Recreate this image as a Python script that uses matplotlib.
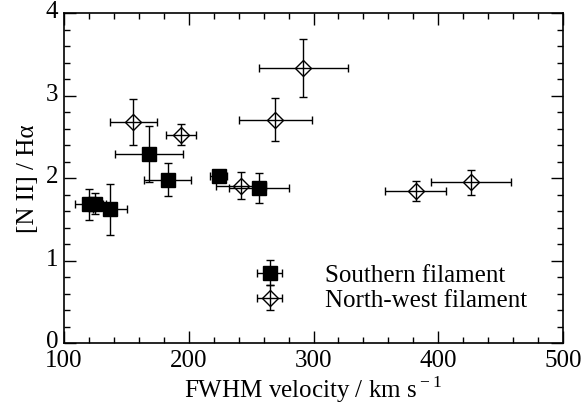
import matplotlib
matplotlib.use('Agg')
import matplotlib.pyplot as plt
import matplotlib.transforms as mtransforms

# Southern filament (filled squares)
south_x = [120.0, 124.6, 136.9, 168.1, 183.1, 224.0, 256.1]
south_y = [1.68, 1.69, 1.62, 2.29, 1.98, 2.02, 1.88]
south_xerr = [11.5, 9.0, 14.0, 27.0, 19.0, 7.0, 24.0]
south_yerr = [0.19, 0.13, 0.31, 0.34, 0.20, 0.05, 0.18]

# North-west filament (open diamonds)
north_x = [155.6, 193.8, 241.9, 269.4, 291.9, 381.9, 426.0]
north_y = [2.675, 2.525, 1.907, 2.707, 3.33, 1.839, 1.948]
north_xerr = [18.7, 12.0, 20.0, 29.5, 35.6, 24.5, 32.0]
north_yerr = [0.28, 0.13, 0.16, 0.26, 0.35, 0.12, 0.15]

x_ticks = [100, 200, 300, 400, 500]
y_ticks = [0, 1, 2, 3, 4]

plt.rcParams['font.family'] = ['Liberation Serif', 'DejaVu Serif']
plt.rcParams['mathtext.fontset'] = 'custom'
plt.rcParams['mathtext.rm'] = 'Liberation Serif'
plt.rcParams['font.size'] = 18

fig = plt.figure(figsize=(5.84, 4.06), dpi=100)
ax = fig.add_axes([64 / 584, 1 - 344 / 406, 499 / 584, 330 / 406])

ax.errorbar(south_x, south_y, xerr=south_xerr, yerr=south_yerr, fmt='s',
            color='black', ms=9.5, elinewidth=1, capsize=3, capthick=1,
            label='Southern filament')
ax.errorbar(north_x, north_y, xerr=north_xerr, yerr=north_yerr, fmt='D',
            color='black', mfc='none', mec='black', mew=1, ms=8.5,
            elinewidth=1, capsize=3, capthick=1, label='North-west filament')

ax.set_xlim(100, 500)
ax.set_ylim(0, 4)
ax.set_xticks(x_ticks)
ax.set_yticks(y_ticks)
ax.set_xticks(range(100, 501, 20), minor=True)
ax.set_yticks([i * 0.2 for i in range(21)], minor=True)
ax.tick_params(which='both', direction='in', top=True, right=True, width=1)
ax.tick_params(which='major', length=8.5, pad=4)
ax.tick_params(which='minor', length=4.3)
for s in ax.spines.values():
    s.set_linewidth(1.2)

# nudge y tick labels up a little, as in the original
shift = mtransforms.ScaledTranslation(0, 3 / 72, fig.dpi_scale_trans)
for lab in ax.get_yticklabels():
    lab.set_transform(lab.get_transform() + shift)

ax.set_xlabel('FWHM velocity / km s$^{\\rm -1}$', labelpad=2)
ax.set_ylabel('[N II] / H\u03b1', labelpad=5)

ax.legend(loc='upper left', bbox_to_anchor=(0.387, 0.24), frameon=False,
          handlelength=1.0, handletextpad=1.7, borderpad=0, borderaxespad=0,
          labelspacing=0.1)

fig.savefig('out.png', dpi=100)
